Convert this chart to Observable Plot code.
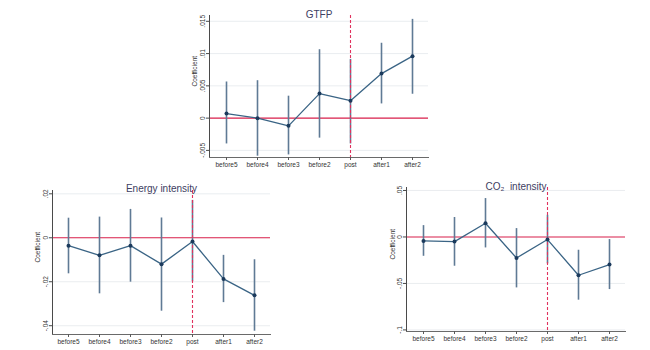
<!DOCTYPE html>
<html>
<head>
<meta charset="utf-8">
<script src="https://cdn.jsdelivr.net/npm/d3@7"></script>
<script src="https://cdn.jsdelivr.net/npm/@observablehq/plot@0.6"></script>
<style>
  html, body { margin: 0; padding: 0; background: #ffffff; }
  #wrap { position: relative; width: 650px; height: 350px; overflow: hidden; font-family: "Liberation Sans", Arial, sans-serif; }
  .panel { position: absolute; }
</style>
</head>
<body>
<div id="wrap"></div>
<script>
const periods = ["before5", "before4", "before3", "before2", "post", "after1", "after2"];

const gtfpCoef = [0.0007, 0.0000, -0.0012, 0.0038, 0.0027, 0.0069, 0.0096];
const gtfpLow  = [-0.0040, -0.0059, -0.0057, -0.0031, -0.0040, 0.0022, 0.0037];
const gtfpHigh = [0.0056, 0.0058, 0.0034, 0.0106, 0.0091, 0.0116, 0.0153];

const energyCoef = [-0.0036, -0.0080, -0.0036, -0.0120, -0.0017, -0.0187, -0.0262];
const energyLow  = [-0.0164, -0.0255, -0.0202, -0.0334, -0.0200, -0.0295, -0.0425];
const energyHigh = [0.0089, 0.0094, 0.0129, 0.0090, 0.0170, -0.0080, -0.0100];

const co2Coef = [-0.0043, -0.0050, 0.0147, -0.0226, -0.0028, -0.0412, -0.0297];
const co2Low  = [-0.0208, -0.0315, -0.0118, -0.0548, -0.0290, -0.0680, -0.0566];
const co2High = [0.0122, 0.0209, 0.0413, 0.0090, 0.0233, -0.0143, -0.0028];

const gtfpTicks = [-0.005, 0, 0.005, 0.01, 0.015];
const gtfpTickLabels = ["-.005", "0", ".005", ".01", ".015"];
const energyTicks = [-0.04, -0.02, 0, 0.02];
const energyTickLabels = ["-.04", "-.02", "0", ".02"];
const co2Ticks = [-0.1, -0.05, 0, 0.05];
const co2TickLabels = ["-.1", "-.05", "0", ".05"];

const titles = ["GTFP", "Energy intensity", "CO\u2082  intensity"];
const eventPeriod = "post";

function rows(coef, low, high) {
  return periods.map((p, i) => ({period: p, coef: coef[i], low: low[i], high: high[i]}));
}

const CI = "#5f7a95";
const LINE = "#3a6485";
const DOT = "#1b3a5c";
const RED = "#d81e4a";
const DASH = "#e0325e";

function panel(cfg) {
  const data = rows(cfg.coef, cfg.low, cfg.high);
  const labelMap = new Map(cfg.ticks.map((t, i) => [t, cfg.tickLabels[i]]));
  const chart = Plot.plot({
    width: cfg.width,
    height: cfg.height,
    marginLeft: cfg.ml,
    marginRight: cfg.mr,
    marginTop: cfg.mt,
    marginBottom: cfg.mb,
    style: {background: "transparent", fontFamily: "'Liberation Sans', Arial, sans-serif", overflow: "visible"},
    x: {type: "point", domain: periods, padding: 0.5},
    y: {domain: cfg.domain},
    marks: [
      Plot.gridY(cfg.ticks.filter(t => t !== 0), {stroke: "#e4e8ec", strokeOpacity: 1, strokeWidth: 0.8}),
      Plot.ruleY([0], {stroke: RED, strokeWidth: 1.1}),
      Plot.ruleX(data, {x: "period", y1: "low", y2: "high", stroke: CI, strokeWidth: 1.6}),
      Plot.ruleX([eventPeriod], {stroke: DASH, strokeWidth: 1.1, strokeDasharray: "3,2"}),
      Plot.line(data, {x: "period", y: "coef", stroke: LINE, strokeWidth: 1.3}),
      Plot.dot(data, {x: "period", y: "coef", fill: DOT, r: 2}),
      Plot.frame({anchor: "left", stroke: "#4a4a4a", strokeWidth: 1}),
      Plot.frame({anchor: "bottom", stroke: "#6a6a6a", strokeWidth: 1}),
      Plot.axisY(cfg.ticks, {
        tickFormat: d => labelMap.get(d),
        tickRotate: -90,
        tickSize: 3,
        tickPadding: 2,
        fontSize: 6.5,
        fill: "#333",
        stroke: "#4a4a4a",
        label: null
      }),
      Plot.axisX({tickSize: 3, tickPadding: 2, fontSize: 6.5, fill: "#333", stroke: "#5a5a5a", label: null}),
      Plot.text(["Coefficient"], {frameAnchor: "left", dx: -cfg.labelOff, rotate: -90, fontSize: 6.5, fill: "#333", text: d => d}),
      Plot.text([cfg.title], {frameAnchor: "top", dy: -cfg.titleOff, fontSize: 10, fill: "#404062", text: d => d})
    ]
  });
  const div = document.createElement("div");
  div.className = "panel";
  div.style.left = cfg.left + "px";
  div.style.top = cfg.top + "px";
  div.appendChild(chart);
  document.getElementById("wrap").appendChild(div);
}

panel({
  left: 150, top: 0, width: 300, height: 175,
  ml: 59, mr: 22, mt: 15, mb: 18,
  domain: [-0.0061, 0.0159],
  ticks: gtfpTicks, tickLabels: gtfpTickLabels,
  coef: gtfpCoef, low: gtfpLow, high: gtfpHigh,
  title: titles[0], titleOff: 5, labelOff: 15
});

panel({
  left: 0, top: 170, width: 290, height: 180,
  ml: 52, mr: 20, mt: 20, mb: 16,
  domain: [-0.0440, 0.0215],
  ticks: energyTicks, tickLabels: energyTickLabels,
  coef: energyCoef, low: energyLow, high: energyHigh,
  title: titles[1], titleOff: 6, labelOff: 15
});

panel({
  left: 350, top: 170, width: 300, height: 180,
  ml: 56, mr: 25, mt: 17, mb: 19,
  domain: [-0.1017, 0.0532],
  ticks: co2Ticks, tickLabels: co2TickLabels,
  coef: co2Coef, low: co2Low, high: co2High,
  title: titles[2], titleOff: 5, labelOff: 14
});
</script>
</body>
</html>
